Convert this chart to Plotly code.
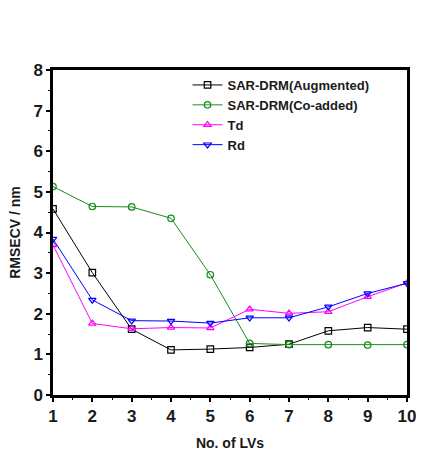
import plotly.graph_objects as go

lvs = [1, 2, 3, 4, 5, 6, 7, 8, 9, 10]
augmented = [4.58, 3.01, 1.62, 1.11, 1.13, 1.17, 1.25, 1.58, 1.66, 1.62]
coadded = [5.13, 4.64, 4.63, 4.35, 2.96, 1.27, 1.24, 1.24, 1.23, 1.24]
td = [3.69, 1.76, 1.63, 1.66, 1.65, 2.11, 2.01, 2.05, 2.42, 2.76]
rd = [3.84, 2.34, 1.83, 1.82, 1.77, 1.90, 1.90, 2.17, 2.50, 2.75]
yticks = [0, 1, 2, 3, 4, 5, 6, 7, 8]

names = ["SAR-DRM(Augmented)", "SAR-DRM(Co-added)", "Td", "Rd"]
colors = ["#000000", "#1a8c1a", "#ff00ff", "#0000ff"]
symbols = ["square-open", "circle-open", "triangle-up-open", "triangle-down-open"]
series = [augmented, coadded, td, rd]

fig = go.Figure()
for n, c, s, ys in zip(names, colors, symbols, series):
    fig.add_trace(go.Scatter(
        x=lvs, y=ys, name="<b>" + n + "</b>", mode="lines+markers",
        line=dict(color=c, width=1),
        marker=dict(symbol=s, size=6.5, color=c, line=dict(width=1.2, color=c)),
    ))

font = dict(family="Liberation Sans, Arial, sans-serif", color="#1a1a1a")

fig.update_layout(
    width=421, height=457,
    margin=dict(l=53, r=14, t=70, b=62),
    paper_bgcolor="white", plot_bgcolor="white",
    showlegend=True,
    legend=dict(x=0.38, y=1.0, xanchor="left", yanchor="top",
                bgcolor="rgba(0,0,0,0)", borderwidth=0,
                font=dict(size=13, **font), tracegroupgap=0, itemwidth=30),
    xaxis=dict(range=[1, 10], tickvals=lvs, ticktext=["<b>%d</b>" % v for v in lvs],
               ticks="outside", ticklen=4, tickwidth=1.5, automargin=False,
               tickcolor="black", showline=True, linecolor="black", linewidth=2.5,
               mirror=True, showgrid=False, zeroline=False,
               tickfont=dict(size=17, **font),
               minor=dict(ticks="outside", ticklen=2, tickwidth=1, tickcolor="black", dtick=0.5),
               title=dict(text="<b>No. of LVs</b>", font=dict(size=14, **font), standoff=14)),
    yaxis=dict(range=[0, 8], tickvals=yticks, ticktext=["<b>%d</b>" % v for v in yticks],
               ticks="outside", ticklen=4, tickwidth=1.5, automargin=False,
               tickcolor="black", showline=True, linecolor="black", linewidth=2.5,
               mirror=True, showgrid=False, zeroline=False,
               tickfont=dict(size=17, **font),
               minor=dict(ticks="outside", ticklen=2, tickwidth=1, tickcolor="black", dtick=0.5),
               title=dict(text="<b>RMSECV / nm</b>", font=dict(size=14, **font), standoff=10)),
)

fig.write_html("out.html")
